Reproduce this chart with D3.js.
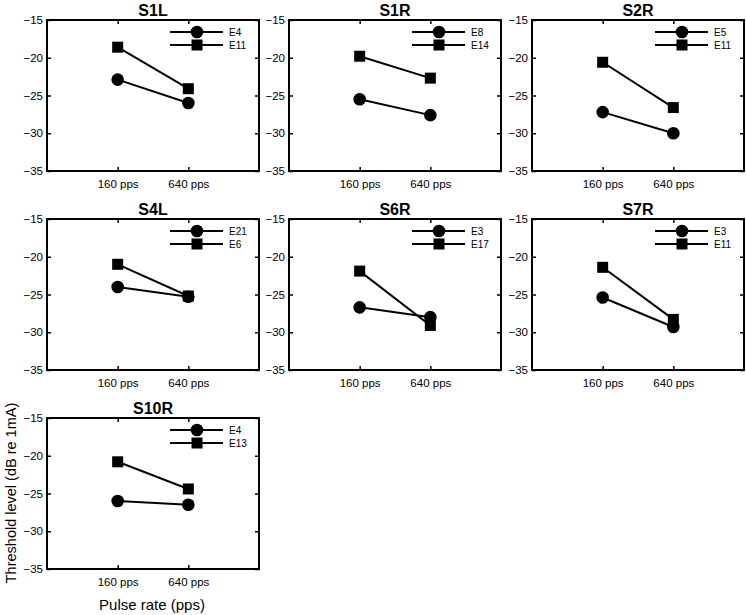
<!DOCTYPE html>
<html><head><meta charset="utf-8">
<script src="https://cdn.jsdelivr.net/npm/d3@7"></script>
<style>
body{margin:0;background:#fff;}
svg{display:block;font-family:"Liberation Sans",Arial,Helvetica,sans-serif;}
</style></head>
<body><svg id="c" width="746" height="615"></svg>
<script>
const panels = ["S1L","S1R","S2R","S4L","S6R","S7R","S10R"];
const rates = ["160 pps","640 pps"];
const yTicks = [-15,-20,-25,-30,-35];
const circleNames = ["E4","E8","E5","E21","E3","E3","E4"];
const squareNames = ["E11","E14","E11","E6","E17","E11","E13"];
const circle160 = [-22.9,-25.5,-27.2,-24.0,-26.7,-25.4,-26.0];
const circle640 = [-26.0,-27.6,-30.0,-25.3,-28.0,-29.3,-26.5];
const square160 = [-18.6,-19.8,-20.6,-21.0,-21.9,-21.4,-20.8];
const square640 = [-24.1,-22.7,-26.6,-25.2,-29.1,-28.3,-24.4];
const yLabel = "Threshold level (dB re 1mA)";
const xLabel = "Pulse rate (pps)";

const svg = d3.select("#c");
const colLeft = [47, 289, 532];
const rowTop = [20, 219, 418];
const W = 212, H = 151;

const x = d3.scalePoint().domain(["", ...rates, " "]).range([0, W]);
const y = d3.scaleLinear().domain([-35, -15]).range([H, 0]);

panels.forEach((name, i) => {
  const col = i % 3, row = Math.floor(i / 3);
  const g = svg.append("g").attr("transform", `translate(${colLeft[col]},${rowTop[row]})`);

  const left = g.append("g").call(d3.axisLeft(y).tickValues(yTicks).tickSize(-4).tickPadding(4).tickFormat(d3.format("d")));
  const right = g.append("g").attr("transform", `translate(${W},0)`).call(d3.axisRight(y).tickValues(yTicks).tickSize(-4).tickFormat(""));
  const bottom = g.append("g").attr("transform", `translate(0,${H})`).call(d3.axisBottom(x).tickValues(rates).tickSize(-4).tickPadding(9));
  const top = g.append("g").call(d3.axisTop(x).tickValues(rates).tickSize(-4).tickFormat(""));
  [left, right, bottom, top].forEach(a => {
    a.select(".domain").remove();
    a.selectAll("line").attr("stroke", "#000").attr("stroke-width", 1.5);
    a.selectAll("text").attr("fill", "#000").style("font-size", "11.5px");
  });
  g.append("rect").attr("x", 0).attr("y", 0).attr("width", W).attr("height", H)
    .attr("fill", "none").attr("stroke", "#000").attr("stroke-width", 2);

  g.append("text").attr("x", W / 2).attr("y", -4).attr("text-anchor", "middle")
    .style("font-size", "16px").style("font-weight", "bold").text(name);

  const cData = [[rates[0], circle160[i]], [rates[1], circle640[i]]];
  const sData = [[rates[0], square160[i]], [rates[1], square640[i]]];
  const line = d3.line().x(d => x(d[0])).y(d => y(d[1]));

  g.append("path").attr("d", line(cData)).attr("fill", "none").attr("stroke", "#000").attr("stroke-width", 2);
  g.append("path").attr("d", line(sData)).attr("fill", "none").attr("stroke", "#000").attr("stroke-width", 2);
  g.selectAll(".c").data(cData).enter().append("circle")
    .attr("cx", d => x(d[0])).attr("cy", d => y(d[1])).attr("r", 6.3).attr("fill", "#000");
  g.selectAll(".s").data(sData).enter().append("rect")
    .attr("x", d => x(d[0]) - 5.5).attr("y", d => y(d[1]) - 5.5).attr("width", 11).attr("height", 11).attr("fill", "#000");

  const lg = g.append("g").attr("transform", `translate(${W - 89},0)`);
  [[circleNames[i], "c", 12], [squareNames[i], "s", 25]].forEach(([lab, type, yy]) => {
    lg.append("line").attr("x1", 0).attr("x2", 53).attr("y1", yy).attr("y2", yy).attr("stroke", "#000").attr("stroke-width", 2);
    if (type === "c") lg.append("circle").attr("cx", 27).attr("cy", yy).attr("r", 6.3).attr("fill", "#000");
    else lg.append("rect").attr("x", 21.5).attr("y", yy - 5.5).attr("width", 11).attr("height", 11).attr("fill", "#000");
    lg.append("text").attr("x", 59).attr("y", yy + 3.5).style("font-size", "10px").text(lab);
  });
});

svg.append("text").attr("transform", `translate(16,493) rotate(-90)`)
  .attr("text-anchor", "middle").style("font-size", "14.5px").text(yLabel);
svg.append("text").attr("x", colLeft[0] + W / 2 - 1).attr("y", 610).attr("text-anchor", "middle")
  .style("font-size", "15px").text(xLabel);
</script></body></html>
